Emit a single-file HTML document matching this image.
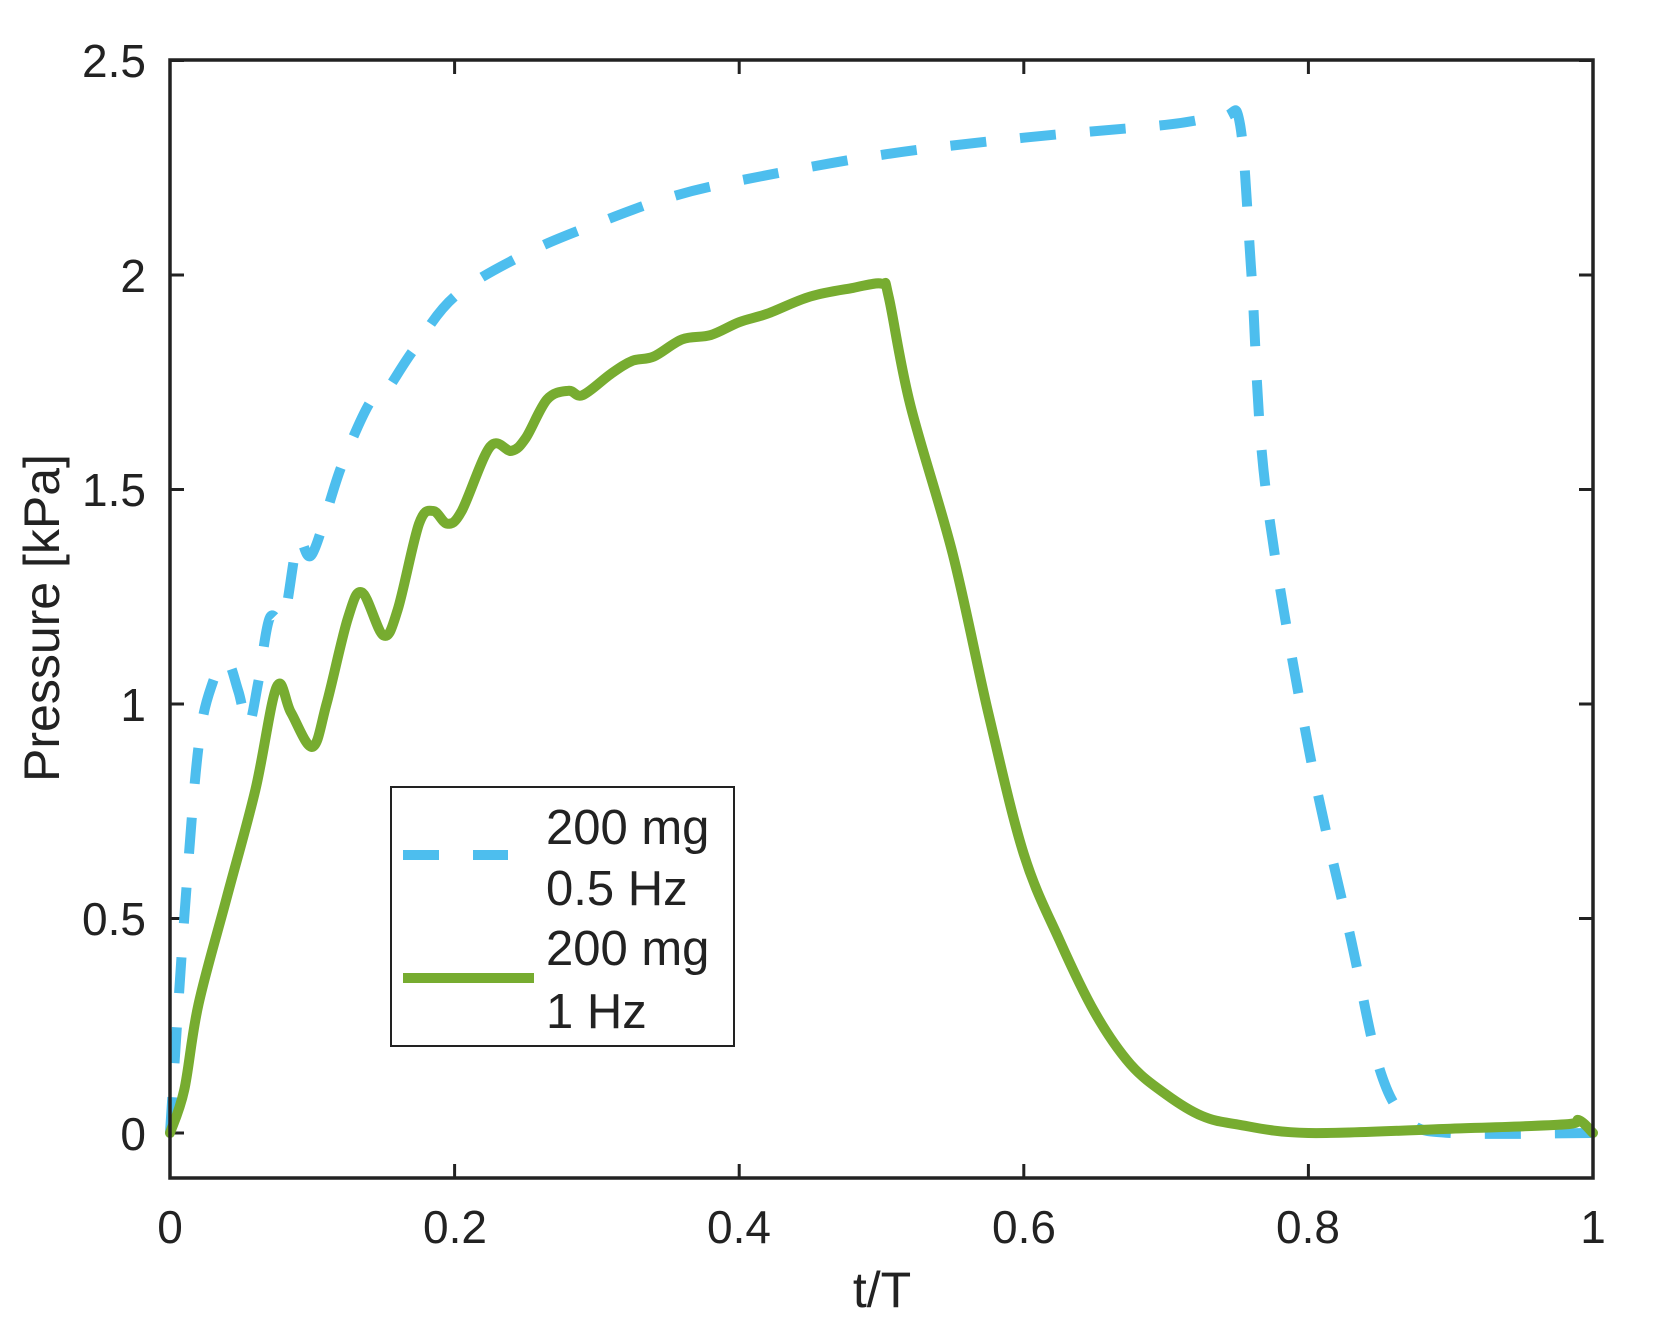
<!DOCTYPE html>
<html><head><meta charset="utf-8"><style>
html,body{margin:0;padding:0;background:#fff;}
svg{display:block;}
text{font-family:"Liberation Sans",Arial,sans-serif;fill:#222;}
</style></head><body>
<svg id="s" width="1667" height="1339" viewBox="0 0 1667 1339" xmlns="http://www.w3.org/2000/svg">
<rect width="1667" height="1339" fill="#fff"/>
<g id="ticks" stroke="#222" stroke-width="3"></g>
<path id="blue" fill="none" stroke="#4DBEEE" stroke-width="10" stroke-dasharray="36,34" stroke-linejoin="round"/>
<path id="green" fill="none" stroke="#77AC30" stroke-width="10" stroke-linejoin="round" stroke-linecap="round"/>
<rect x="170" y="60" width="1423" height="1118" fill="none" stroke="#222" stroke-width="3.5"/>
<g font-size="46" text-anchor="end">
<text x="146" y="1150">0</text>
<text x="146" y="935">0.5</text>
<text x="146" y="721">1</text>
<text x="146" y="506">1.5</text>
<text x="146" y="292">2</text>
<text x="146" y="77">2.5</text>
</g>
<g font-size="46" text-anchor="middle">
<text x="170" y="1243">0</text>
<text x="455" y="1243">0.2</text>
<text x="739" y="1243">0.4</text>
<text x="1024" y="1243">0.6</text>
<text x="1308" y="1243">0.8</text>
<text x="1593" y="1243">1</text>
</g>
<text x="882" y="1307" font-size="50" text-anchor="middle">t/T</text>
<text transform="translate(59,618) rotate(-90)" font-size="50" text-anchor="middle">Pressure [kPa]</text>
<rect x="391" y="787" width="343" height="259" fill="#fff" stroke="#222" stroke-width="2"/>
<line x1="403" y1="855" x2="508" y2="855" stroke="#4DBEEE" stroke-width="10" stroke-dasharray="36,34"/>
<line x1="403" y1="978" x2="534" y2="978" stroke="#77AC30" stroke-width="10"/>
<g font-size="49" style="fill:#000">
<text x="546" y="844">200 mg</text>
<text x="546" y="905">0.5 Hz</text>
<text x="546" y="965">200 mg</text>
<text x="546" y="1028">1 Hz</text>
</g>
</svg>
<script>
var X=function(t){return 170+t*1423},Y=function(p){return 1133-p*429};
function path(d){
  var P=d.map(function(q){return [X(q[0]),Y(q[1])]});
  var s='M'+P[0][0].toFixed(1)+' '+P[0][1].toFixed(1);
  for(var i=0;i<P.length-1;i++){
    var p0=P[i?i-1:0],p1=P[i],p2=P[i+1],p3=P[i+2<P.length?i+2:i+1];
    var c1=[p1[0]+(p2[0]-p0[0])/6,p1[1]+(p2[1]-p0[1])/6];
    var c2=[p2[0]-(p3[0]-p1[0])/6,p2[1]-(p3[1]-p1[1])/6];
    s+=' C'+c1[0].toFixed(1)+' '+c1[1].toFixed(1)+' '+c2[0].toFixed(1)+' '+c2[1].toFixed(1)+' '+p2[0].toFixed(1)+' '+p2[1].toFixed(1);
  }
  return s;
}
var blue=[[0,0],[0.01,0.5],[0.02,0.9],[0.03,1.05],[0.04,1.1],[0.048,1.03],[0.055,0.95],[0.062,1.05],[0.07,1.2],[0.08,1.2],[0.09,1.38],[0.1,1.35],[0.12,1.55],[0.14,1.7],[0.15,1.72],[0.17,1.82],[0.2,1.95],[0.25,2.05],[0.3,2.12],[0.35,2.18],[0.4,2.22],[0.5,2.28],[0.6,2.32],[0.7,2.35],[0.74,2.37],[0.752,2.35],[0.76,2.0],[0.77,1.5],[0.8,0.9],[0.83,0.45],[0.85,0.15],[0.87,0.03],[0.9,0.0],[1.0,0.0]];
var green=[[0,0],[0.01,0.1],[0.02,0.3],[0.04,0.55],[0.06,0.8],[0.075,1.04],[0.085,0.98],[0.1,0.9],[0.11,1.0],[0.125,1.2],[0.135,1.26],[0.15,1.16],[0.16,1.22],[0.175,1.42],[0.185,1.45],[0.195,1.42],[0.205,1.45],[0.225,1.6],[0.24,1.59],[0.25,1.62],[0.265,1.71],[0.28,1.73],[0.29,1.72],[0.31,1.77],[0.325,1.8],[0.34,1.81],[0.36,1.85],[0.38,1.86],[0.4,1.89],[0.42,1.91],[0.45,1.95],[0.48,1.97],[0.5,1.98],[0.505,1.95],[0.52,1.7],[0.55,1.35],[0.575,0.98],[0.6,0.65],[0.625,0.45],[0.65,0.28],[0.675,0.16],[0.7,0.09],[0.725,0.04],[0.75,0.02],[0.8,0.0],[0.9,0.01],[0.98,0.02],[0.99,0.03],[1.0,0.0]];
document.getElementById('blue').setAttribute('d',path(blue));
document.getElementById('green').setAttribute('d',path(green));
var g=document.getElementById('ticks'),h='';
[0,0.2,0.4,0.6,0.8,1].forEach(function(t){var x=X(t);h+='<line x1="'+x+'" y1="1178" x2="'+x+'" y2="1164"/><line x1="'+x+'" y1="60" x2="'+x+'" y2="74"/>';});
[0,0.5,1,1.5,2,2.5].forEach(function(p){var y=Y(p);h+='<line x1="170" y1="'+y+'" x2="184" y2="'+y+'"/><line x1="1593" y1="'+y+'" x2="1579" y2="'+y+'"/>';});
g.innerHTML=h;
</script>
</body></html>
